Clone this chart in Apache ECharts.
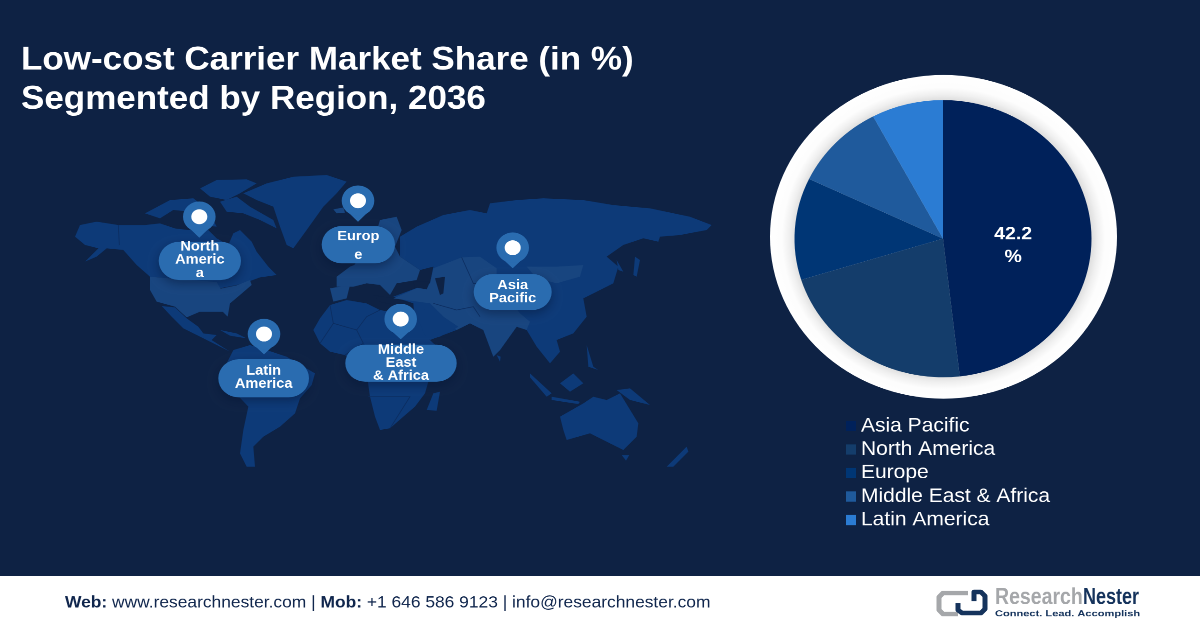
<!DOCTYPE html>
<html>
<head>
<meta charset="utf-8">
<style>
  html, body { margin: 0; padding: 0; background: #0e2244; overflow: hidden; width: 1200px; height: 628px; }
  /* the reference is a stretched image: the pie is an ellipse, so draw tall and squeeze */
  #chart { width: 1200px; height: 673px; transform-origin: 0 0; transform: scaleY(0.93314); }
</style>
</head>
<body>
<div id="chart"></div>
<script src="https://cdn.jsdelivr.net/npm/echarts@6/dist/echarts.min.js"></script>
<script>
const regions = ['Asia Pacific', 'North America', 'Europe', 'Middle East & Africa', 'Latin America'];
const shares = [48.2, 22, 11.9, 10.1, 7.8];
const sliceColors = ['#00215a', '#143d6b', '#003675', '#1f5a9c', '#2b7cd3'];
const printedLabel = '42.2\n%';

const FONT = '"Liberation Sans", Arial, sans-serif';
const K = 673 / 628;
const sy = (y) => y * K;
const BG = '#0e2244';
const LAND = '#0d3a78';
const LAND_LIGHT = '#18457f';
const BLUE = '#2a6cb0';

// backdrop map outlines, traced roughly from 3x crops
const z2 = (pts) => pts.map((p) => [60 + p[0] / 3, 170 + p[1] / 3]);
const z3 = (pts) => pts.map((p) => [330 + p[0] / 3, 170 + p[1] / 3]);
const zSA = (pts) => pts.map((p) => [200 + p[0] / 3, 330 + p[1] / 3]);
const zAF = (pts) => pts.map((p) => [300 + p[0] / 3, 260 + p[1] / 3]);

const landShapes = [
  // Canada + Alaska
  [LAND, z2([[45,200],[60,165],[110,155],[175,165],[255,165],[300,160],[345,175],[385,180],[440,175],[470,205],[505,225],[520,190],[540,180],[575,215],[590,245],[625,290],[650,315],[600,322],[565,335],[530,345],[480,355],[470,338],[270,320],[230,285],[190,240],[140,235],[110,260],[75,275],[115,235],[75,225]])],
  // arctic islands
  [LAND, z2([[420,55],[470,30],[560,28],[590,40],[540,70],[500,90],[450,80]])],
  [LAND, z2([[255,130],[330,90],[400,85],[440,115],[390,125],[340,120],[300,145]])],
  [LAND, z2([[480,95],[530,80],[570,110],[640,150],[650,175],[600,150],[550,130],[500,125]])],
  [LAND, z2([[385,140],[450,130],[470,170],[400,165]])],
  // Greenland
  [LAND, z2([[550,70],[620,40],[700,20],[800,15],[860,35],[830,70],[790,110],[740,180],[700,235],[680,225],[660,170],[640,110],[590,90]])],
  // USA
  [LAND_LIGHT, z2([[270,320],[470,336],[482,356],[530,346],[570,330],[575,345],[540,375],[510,400],[503,440],[488,425],[420,425],[380,442],[345,410],[290,395],[270,360]])],
  // Mexico + Central America
  [LAND, z2([[305,408],[345,412],[380,445],[415,470],[430,490],[470,495],[455,510],[510,545],[480,530],[420,500],[370,475],[335,440]])],
  // Cuba
  [LAND, z2([[480,480],[530,490],[560,505],[510,497]])],
  // South America
  [LAND, zSA([[100,60],[150,45],[200,60],[260,80],[345,130],[335,165],[300,205],[285,250],[240,290],[190,320],[160,350],[165,410],[140,410],[120,370],[130,300],[145,230],[60,140]])],
  // Iceland, UK, Iberia
  [LAND_LIGHT, z2([[820,118],[850,112],[855,128],[830,130]])],
  [LAND_LIGHT, z2([[880,290],[905,250],[925,300],[900,325],[880,320]])],
  [LAND_LIGHT, zAF([[90,85],[150,75],[140,115],[100,125]])],
  // Asia + Russia
  [LAND, z3([[210,200],[260,170],[340,135],[420,120],[470,130],[480,100],[560,90],[640,85],[760,90],[850,105],[960,115],[1080,140],[1145,165],[1130,180],[1050,195],[990,200],[985,215],[940,205],[880,225],[830,260],[865,290],[850,340],[800,365],[760,385],[770,440],[730,490],[680,510],[690,545],[660,580],[620,530],[590,480],[560,470],[510,540],[490,560],[460,480],[420,460],[380,480],[300,510],[255,460],[250,400],[190,380],[270,350],[300,340],[310,290],[270,300],[210,260]])],
  // Central Asia, Middle East, India (lighter)
  [LAND_LIGHT, z3([[310,295],[395,262],[450,260],[500,295],[500,340],[570,430],[600,455],[590,480],[560,470],[510,540],[490,560],[460,480],[420,460],[380,480],[340,440],[300,400],[190,385],[270,350],[300,340]])],
  // Arabia
  [LAND, z3([[255,445],[300,400],[340,440],[385,470],[330,500],[290,510]])],
  // Mongolia
  [LAND_LIGHT, z3([[590,290],[680,290],[760,285],[750,320],[680,340],[620,325]])],
  // Europe
  [LAND_LIGHT, z3([[20,320],[60,290],[110,270],[135,200],[150,150],[200,140],[215,180],[195,230],[210,260],[270,300],[260,330],[200,340],[180,375],[150,345],[110,340],[70,350],[20,350]])],
  // Africa
  [LAND, zAF([[40,210],[60,175],[90,135],[140,120],[200,130],[240,150],[300,160],[350,170],[375,225],[400,250],[470,300],[400,350],[385,365],[375,400],[345,440],[310,470],[270,505],[240,510],[225,470],[210,410],[200,340],[135,285],[90,275],[60,250]])],
  // inland seas
  [BG, z3([[250,335],[300,335],[290,358],[255,352]])],
  [BG, z3([[315,325],[345,320],[340,370],[330,375]])],
  [BG, z3([[130,375],[190,385],[250,400],[200,405],[150,395]])],
  // islands of the east and south
  [LAND, z3([[290,720],[310,670],[330,665],[320,722]])],
  [LAND, z3([[600,610],[665,670],[650,680],[600,622]])],
  [LAND, z3([[690,640],[730,610],[760,640],[720,665]])],
  [LAND, z3([[665,680],[750,695],[745,702],[665,690]])],
  [LAND, z3([[860,660],[900,655],[960,705],[900,690]])],
  [LAND, z3([[770,525],[790,590],[805,600],[775,590]])],
  [LAND, z3([[915,260],[930,270],[920,320],[910,315]])],
  [LAND, z3([[860,270],[880,305],[865,300]])],
  [LAND, z3([[500,555],[512,560],[510,575]])],
  // Australia, Tasmania, New Zealand
  [LAND, z3([[690,740],[760,700],[790,680],[830,690],[870,670],[925,760],[920,800],[880,840],[840,820],[780,790],[710,810],[700,780]])],
  [LAND, z3([[875,855],[898,855],[888,872]])],
  [LAND, z3([[1010,890],[1070,830],[1075,845],[1030,890]])]
];

// a few country borders
const borders = [
  zAF([[90,135],[100,190],[60,250]]),
  zAF([[100,190],[170,210],[200,170],[240,150]]),
  zAF([[170,210],[190,250],[135,285]]),
  zAF([[205,410],[330,410],[270,505]]),
  z3([[310,400],[380,420],[430,410],[450,440]]),
  z3([[395,262],[430,340],[500,340]]),
  z2([[175,165],[178,225]])
];

const markers = [
  { pin: [199.3, 216.7, 237.7], box: [158.7, 241.7, 82.3, 38.3], lines: ['North', 'Americ', 'a'], ys: [247, 260, 273.4] },
  { pin: [358, 200.7, 221.7], box: [321.7, 226, 73.3, 37.3], lines: ['Europ', 'e'], ys: [236.7, 255.2] },
  { pin: [264, 334, 354.3], box: [218.3, 359.3, 90.7, 38], lines: ['Latin', 'America'], ys: [370.7, 384] },
  { pin: [512.7, 247.7, 268.3], box: [473.7, 274, 78, 36], lines: ['Asia', 'Pacific'], ys: [285.7, 298.4] },
  { pin: [400.7, 319, 339.3], box: [345.3, 344.7, 111.4, 37], lines: ['Middle', 'East', '& Africa'], ys: [350, 363, 376] }
];

const stretch = (pts) => pts.map((p) => [p[0], sy(p[1])]);
const graphics = [];
landShapes.forEach((s) => {
  graphics.push({ type: 'polygon', silent: true, z: 1, shape: { points: stretch(s[1]) }, style: { fill: s[0] } });
});
borders.forEach((b) => {
  graphics.push({ type: 'polyline', silent: true, z: 2, shape: { points: stretch(b) }, style: { stroke: '#0c2c5e', lineWidth: 0.7, fill: null } });
});
markers.forEach((m) => {
  const cx = m.pin[0], cy = sy(m.pin[1]), tip = sy(m.pin[2]);
  graphics.push({ type: 'polygon', silent: true, z: 4, shape: { points: [[cx - 14, cy + 8], [cx, tip], [cx + 14, cy + 8]] }, style: { fill: BLUE } });
  graphics.push({ type: 'circle', silent: true, z: 4, shape: { cx, cy, r: 16.3 }, style: { fill: BLUE } });
  graphics.push({ type: 'circle', silent: true, z: 5, shape: { cx, cy, r: 8 }, style: { fill: '#fff' } });
  const [x, y, w, h] = m.box;
  graphics.push({
    type: 'rect', silent: true, z: 4,
    shape: { x, y: sy(y), width: w, height: sy(h), r: sy(h) / 2 },
    style: { fill: BLUE, shadowBlur: 10, shadowOffsetY: 4, shadowColor: 'rgba(5,20,50,0.45)' }
  });
  m.lines.forEach((t, i) => {
    graphics.push({
      type: 'text', silent: true, z: 6,
      style: { text: t, x: x + w / 2, y: sy(m.ys[i]), fill: '#fff', font: 'bold 14.6px ' + FONT, textAlign: 'center', textVerticalAlign: 'middle' }
    });
  });
});

// white ring behind the pie
graphics.push({
  type: 'circle', silent: true, z: 1,
  shape: { cx: 943.5, cy: sy(236.8), r: 173.5 },
  style: {
    fill: {
      type: 'radial', x: 0.5, y: 0.505, r: 0.5,
      colorStops: [
        { offset: 0, color: '#cccccc' },
        { offset: 0.85, color: '#dddddd' },
        { offset: 0.89, color: '#f0f0f0' },
        { offset: 0.93, color: '#fdfdfd' },
        { offset: 1, color: '#ffffff' }
      ]
    }
  }
});

// title
['Low-cost Carrier Market Share (in %)', 'Segmented by Region, 2036'].forEach((t, i) => {
  graphics.push({
    type: 'text', silent: true, z: 6,
    style: { text: t, x: 21, y: sy(60.5 + i * 39), fill: '#fff', font: 'bold 35px ' + FONT, textVerticalAlign: 'middle' }
  });
});

// footer strip
graphics.push({ type: 'rect', silent: true, z: 5, shape: { x: 0, y: sy(576), width: 1200, height: sy(52) + 1 }, style: { fill: '#fff' } });
graphics.push({
  type: 'text', silent: true, z: 6,
  style: {
    x: 65, y: sy(603), textVerticalAlign: 'middle',
    text: '{b|Web:} www.researchnester.com | {b|Mob:} +1 646 586 9123 | info@researchnester.com',
    font: '17.4px ' + FONT, fill: '#10264d',
    rich: { b: { font: 'bold 17.4px ' + FONT, fill: '#10264d' } }
  }
});

// footer logo
graphics.push({
  type: 'polyline', silent: true, z: 6,
  shape: { points: stretch([[968, 593], [943, 593], [939, 597], [939, 610], [943, 614], [958, 614]]) },
  style: { stroke: '#a5a7aa', lineWidth: 5, fill: null, lineJoin: 'round' }
});
graphics.push({
  type: 'polyline', silent: true, z: 6,
  shape: { points: stretch([[958, 603], [958, 610], [962, 613], [981, 613], [985, 609], [985, 596], [981, 592], [974, 592], [974, 601]]) },
  style: { stroke: '#15335c', lineWidth: 5, fill: null, lineJoin: 'round' }
});
graphics.push({
  type: 'text', silent: true, z: 6, x: 995, y: sy(598), scaleX: 0.78,
  style: { text: 'Research', x: 0, y: 0, fill: '#a5a7aa', font: 'bold 25px ' + FONT, textVerticalAlign: 'middle' }
});
graphics.push({
  type: 'text', silent: true, z: 6, x: 1083, y: sy(598), scaleX: 0.72,
  style: { text: 'Nester', x: 0, y: 0, fill: '#15335c', font: 'bold 25px ' + FONT, textVerticalAlign: 'middle' }
});
graphics.push({
  type: 'text', silent: true, z: 6, x: 995, y: sy(614), scaleX: 1.23,
  style: { text: 'Connect. Lead. Accomplish', x: 0, y: 0, fill: '#15335c', font: 'bold 9px ' + FONT, textVerticalAlign: 'middle' }
});

const chart = echarts.init(document.getElementById('chart'), null, { renderer: 'canvas', devicePixelRatio: 2 });
chart.setOption({
  animation: false,
  backgroundColor: BG,
  legend: {
    orient: 'vertical',
    left: 846,
    top: 446,
    padding: 0,
    icon: 'rect',
    itemWidth: 10,
    itemHeight: 11,
    itemGap: 4.2,
    selectedMode: false,
    data: regions,
    textStyle: { color: '#fff', fontSize: 21, fontFamily: FONT, lineHeight: 21 }
  },
  graphic: { elements: graphics },
  series: [
    {
      type: 'pie',
      center: [943, sy(238.7)],
      radius: [0, 148.5],
      startAngle: 90,
      clockwise: true,
      silent: true,
      z: 10,
      labelLine: { show: false },
      data: regions.map((name, i) => ({
        name,
        value: shares[i],
        itemStyle: { color: sliceColors[i] },
        label: i === 0
          ? { show: true, position: 'inside', offset: [-7, 12], formatter: printedLabel, color: '#fff', fontFamily: FONT, fontWeight: 'bold', fontSize: 19.5, lineHeight: 24.6 }
          : { show: false }
      }))
    }
  ]
});
</script>
</body>
</html>
